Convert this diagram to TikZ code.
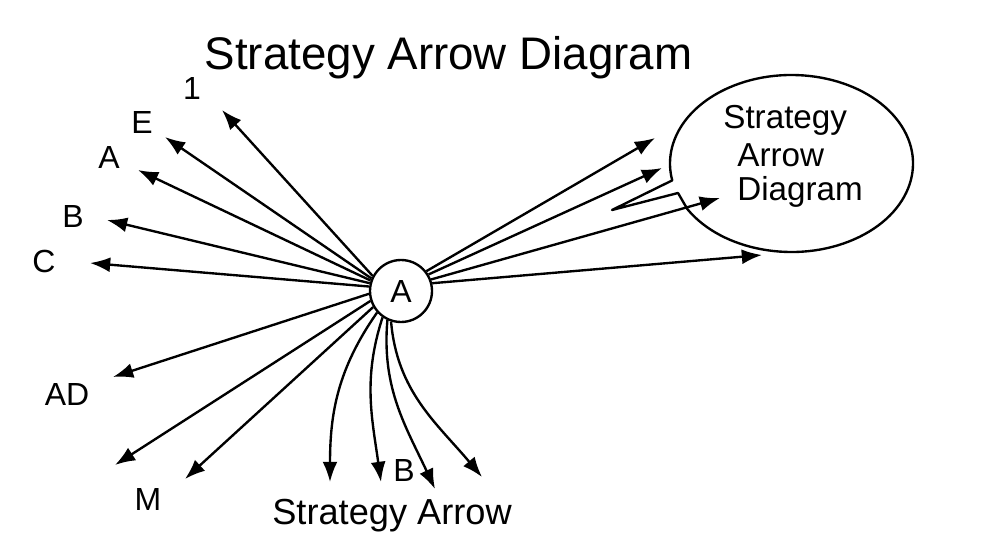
\documentclass[tikz,border=0pt]{standalone}
\usepackage{fontspec}
\setmainfont{Liberation Sans}
\usetikzlibrary{arrows.meta}
\begin{document}
\begin{tikzpicture}[x=0.02cm,y=0.02cm,
  arr/.style={line width=1.35pt,-{Latex[length=11.5pt,width=8.5pt]}},
  lbl/.style={inner sep=0pt,font=\fontsize{18.2}{20}\selectfont},
  bubtxt/.style={inner sep=0pt,anchor=base west,font=\fontsize{18.9}{21}\selectfont}]
\fill[white] (0,0) rectangle (1000,545);
\useasboundingbox (0,0) rectangle (1000,545);

% title
\node[inner sep=0pt,anchor=base,font=\fontsize{26}{30}\selectfont] (title) at (448.5,475) {Strategy Arrow Diagram};

% hub
\node[circle,draw,line width=1.35pt,minimum size=1.24cm,inner sep=0pt,font=\fontsize{18.2}{20}\selectfont] (hub) at (401,254) {A};

% speech bubble
\draw[line width=1.35pt,line join=round] (612,335) -- (678,352) -- ([shift={(211:121.5 and 88.5)}]791.5,381.5)
  arc[start angle=211,end angle=551,x radius=121.5,y radius=88.5] -- cycle;
\node[bubtxt] (bt1) at (723,416) {Strategy};
\node[bubtxt] (bt2) at (737,378) {Arrow};
\node[bubtxt] (bt3) at (737,345) {Diagram};

% labels
\node[lbl] (l1) at (192,456) {1};
\node[lbl] (lE) at (142,422) {E};
\node[lbl] (lA) at (109,387) {A};
\node[lbl] (lB) at (73,328) {B};
\node[lbl] (lC) at (44,284) {C};
\node[lbl] (lAD) at (67,151) {AD};
\node[lbl] (lM) at (148,46) {M};
\node[lbl] (lB2) at (404,75) {B};
\node[inner sep=0pt,anchor=base,font=\fontsize{20.6}{24}\selectfont] (bottom) at (392,21) {Strategy Arrow};

% arrow tips
\coordinate (t1) at (222,435);
\coordinate (tE) at (165,408);
\coordinate (tA) at (138,375);
\coordinate (tB) at (107,325);
\coordinate (tC) at (90,282);
\coordinate (tAD) at (113,168);
\coordinate (tL2) at (115,80);
\coordinate (tM) at (185,66);
\coordinate (b1) at (330,63);
\coordinate (b2) at (381,63);
\coordinate (b3) at (435,56);
\coordinate (b4) at (482,68);
\coordinate (r1) at (655,407);
\coordinate (r2) at (662,377);
\coordinate (r3) at (720,347);
\coordinate (r4) at (762,290);

% left arrows
\draw[arr] (hub.152) -- (t1);
\draw[arr] (hub.157) -- (tE);
\draw[arr] (hub.161) -- (tA);
\draw[arr] (hub.166) -- (tB);
\draw[arr] (hub.172) -- (tC);
\draw[arr] (hub.185) -- (tAD);
\draw[arr] (hub.198) -- (tL2);
\draw[arr] (hub.210) -- (tM);

% bottom curved arrows
\draw[arr] (hub.222) to[out=235,in=90] (b1);
\draw[arr] (hub.235) to[out=252,in=98] (b2);
\draw[arr] (hub.245) to[out=265,in=115] (b3);
\draw[arr] (hub.252) to[out=275,in=130] (b4);

% right arrows
\draw[arr] (hub.38) -- (r1);
\draw[arr] (hub.31) -- (r2);
\draw[arr] (hub.21) -- (r3);
\draw[arr] (hub.14) -- (r4);
\end{tikzpicture}
\end{document}
